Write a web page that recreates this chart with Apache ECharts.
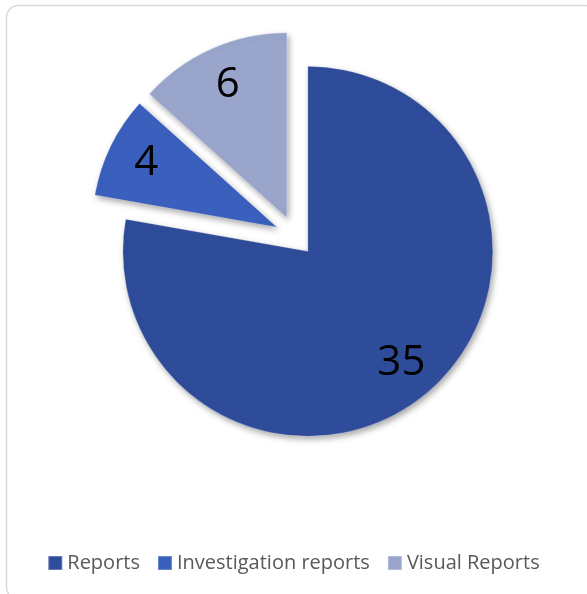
<!DOCTYPE html>
<html>
<head>
<meta charset="utf-8">
<script src="https://cdn.jsdelivr.net/npm/echarts@6/dist/echarts.min.js"></script>
<style>
html,body{margin:0;padding:0;background:#fff;}
#chart{width:587px;height:594px;}
</style>
</head>
<body>
<div id="chart"></div>
<script>
const categories = ['Reports', 'Investigation reports', 'Visual Reports'];
const values = [35, 4, 6];

const sliceColors = ['#2f4c9a', '#3b5fbd', '#9aa5cc'];
const CENTER = [295, 236];
const R = 185;
const OFFSET = 20;

const chart = echarts.init(document.getElementById('chart'), null, {renderer: 'canvas'});

function styled(i, transparent) {
  const c = transparent ? 'rgba(0,0,0,0)' : sliceColors[i];
  const st = transparent ? {color: c} : {
    color: c,
    shadowBlur: 6,
    shadowOffsetX: 2,
    shadowOffsetY: 3,
    shadowColor: 'rgba(0,0,0,0.35)',
    borderColor: 'rgba(255,255,255,0.25)',
    borderWidth: 1
  };
  return {
    name: categories[i],
    value: values[i],
    selected: true,
    itemStyle: st,
    select: {itemStyle: st}
  };
}

chart.setOption({
  animation: false,
  color: sliceColors,
  graphic: [{
    type: 'rect',
    shape: {x: 6.5, y: 5.5, width: 590, height: 594, r: 12},
    style: {fill: 'none', stroke: '#d9d9d9', lineWidth: 1.5},
    silent: true
  }],
  legend: {
    data: categories,
    top: 548,
    left: 'center',
    icon: 'rect',
    itemWidth: 14,
    itemHeight: 14,
    itemGap: 17,
    textStyle: {color: '#595959', fontSize: 20, fontFamily: 'Open Sans'}
  },
  series: [{
    type: 'pie',
    center: CENTER,
    radius: [0, R],
    startAngle: 90,
    clockwise: true,
    selectedMode: 'multiple',
    selectedOffset: OFFSET,
    label: {show: false},
    labelLine: {show: false},
    emphasis: {disabled: true, scale: false},
    data: categories.map((c, i) => styled(i, false))
  }, {
    type: 'pie',
    center: CENTER,
    radius: [100, R],
    startAngle: 90,
    clockwise: true,
    selectedMode: 'multiple',
    selectedOffset: OFFSET,
    silent: true,
    z: 5,
    label: {
      show: true,
      position: 'inside',
      formatter: '{c}',
      color: '#000',
      fontSize: 42,
      fontFamily: 'Open Sans'
    },
    labelLine: {show: false},
    emphasis: {disabled: true, scale: false},
    data: categories.map((c, i) => styled(i, true))
  }]
});
</script>
</body>
</html>
